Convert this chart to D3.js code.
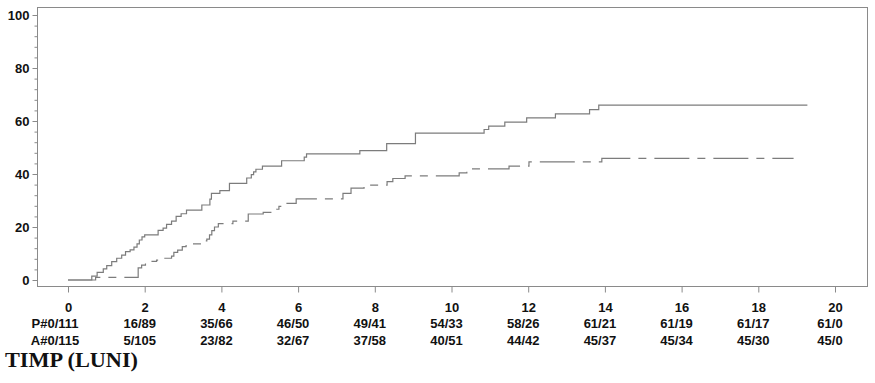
<!DOCTYPE html>
<html>
<head>
<meta charset="utf-8">
<script src="https://cdn.jsdelivr.net/npm/d3@7"></script>
<style>
  html, body { margin: 0; padding: 0; background: #fff; }
  svg { display: block; }
</style>
</head>
<body>
<svg id="chart" width="875" height="383"></svg>
<script>
// ---- data ----
const xTicks = [0, 2, 4, 6, 8, 10, 12, 14, 16, 18, 20];
const yTicks = [0, 20, 40, 60, 80, 100];
const yMinorTicks = [4, 8, 12, 16, 24, 28, 32, 36, 44, 48, 52, 56, 64, 68, 72, 76, 84, 88, 92, 96];
const pLabels = ["P#0/111", "16/89", "35/66", "46/50", "49/41", "54/33", "58/26", "61/21", "61/19", "61/17", "61/0"];
const aLabels = ["A#0/115", "5/105", "23/82", "32/67", "37/58", "40/51", "44/42", "45/37", "45/34", "45/30", "45/0"];
const xTitle = "TIMP (LUNI)";

// group P (solid): [time, cumulative %]
const seriesP = [
  [0, 0], [0.62, 1.5], [0.76, 2.9], [0.92, 4.2], [1.01, 5.4], [1.14, 6.9], [1.27, 8.2],
  [1.40, 9.4], [1.50, 10.7], [1.62, 11.4], [1.72, 12.4], [1.80, 13.6], [1.86, 15.1],
  [1.93, 16.3], [2.00, 17.0], [2.35, 18.7], [2.48, 19.6], [2.57, 21.0], [2.70, 22.2],
  [2.82, 24.0], [2.95, 25.0], [3.09, 26.4], [3.49, 28.3], [3.70, 30.5], [3.74, 32.7],
  [3.96, 33.7], [4.21, 36.5], [4.66, 38.5], [4.78, 39.8], [4.84, 40.8], [4.90, 41.8],
  [5.07, 43.0], [5.57, 45.0], [6.16, 46.4], [6.22, 47.6], [7.61, 48.8], [8.31, 51.5],
  [9.06, 55.4], [10.85, 56.8], [10.97, 58.1], [11.39, 59.6], [11.96, 61.2], [12.71, 62.7],
  [13.60, 64.3], [13.84, 66.0], [19.28, 66.0]
];

// group A (dashed): [time, cumulative %]
const seriesA = [
  [0, 0], [0.72, 1.0], [1.83, 4.6], [1.92, 5.6], [2.02, 6.5], [2.14, 7.0], [2.31, 7.5],
  [2.44, 8.2], [2.70, 9.0], [2.76, 10.4], [2.86, 11.3], [2.98, 12.6], [3.08, 13.6],
  [3.47, 14.8], [3.62, 15.4], [3.69, 17.0], [3.75, 18.6], [3.82, 20.0], [3.92, 21.3],
  [4.30, 22.2], [4.70, 24.9], [5.09, 25.5], [5.44, 26.7], [5.50, 27.8], [5.57, 28.9],
  [5.95, 30.6], [7.17, 32.7], [7.38, 34.7], [7.72, 35.8], [8.32, 37.1], [8.47, 38.3],
  [8.79, 39.3], [10.20, 40.4], [10.40, 41.5], [10.50, 41.9], [11.50, 43.0], [12.02, 44.6],
  [13.92, 45.9], [18.92, 45.9]
];

// ---- layout ----
const svg = d3.select("#chart");
const frame = { left: 37, top: 7, right: 867, bottom: 286 };
const x = d3.scaleLinear().domain([0, 20]).range([68, 835]);
const y = d3.scaleLinear().domain([0, 100]).range([280, 15]);
const axisColor = "#8a8a8a";
const lineColor = "#7c7c7c";
const font = "'Liberation Sans', Arial, Helvetica, sans-serif";

// frame
svg.append("rect")
  .attr("x", frame.left + 0.5).attr("y", frame.top + 0.5)
  .attr("width", frame.right - frame.left).attr("height", frame.bottom - frame.top)
  .attr("fill", "none").attr("stroke", axisColor).attr("stroke-width", 1);

// y axis (major)
const yAxis = svg.append("g").attr("transform", `translate(${frame.left + 0.5},0)`)
  .call(d3.axisLeft(y).tickValues(yTicks).tickSize(5).tickPadding(3).tickSizeOuter(0));
yAxis.select(".domain").remove();
yAxis.selectAll(".tick line").attr("stroke", axisColor);
yAxis.selectAll(".tick text")
  .attr("font-family", font).attr("font-size", 13).attr("font-weight", "bold").attr("fill", "#111");

// y axis (minor)
const yMinor = svg.append("g").attr("transform", `translate(${frame.left + 0.5},0)`)
  .call(d3.axisLeft(y).tickValues(yMinorTicks).tickSize(3).tickFormat(""));
yMinor.select(".domain").remove();
yMinor.selectAll(".tick line").attr("stroke", axisColor);

// x axis
const xAxis = svg.append("g").attr("transform", `translate(0,${frame.bottom + 0.5})`)
  .call(d3.axisBottom(x).tickValues(xTicks).tickSize(6).tickPadding(10).tickSizeOuter(0));
xAxis.select(".domain").remove();
xAxis.selectAll(".tick line").attr("stroke", axisColor);
xAxis.selectAll(".tick text")
  .attr("font-family", font).attr("font-size", 13).attr("font-weight", "bold").attr("fill", "#111");

// at-risk rows
function row(labels, baseline) {
  svg.append("g").selectAll("text").data(labels).join("text")
    .attr("x", (d, i) => x(xTicks[i]) + (i === 0 ? -13 : -5))
    .attr("y", baseline)
    .attr("text-anchor", "middle")
    .attr("font-family", font).attr("font-size", 13).attr("font-weight", "bold")
    .attr("fill", "#111")
    .text(d => d);
}
row(pLabels, 328.3);
row(aLabels, 345);

// x title
svg.append("text")
  .attr("x", 5).attr("y", 367)
  .attr("font-family", "'Liberation Serif', 'Times New Roman', serif")
  .attr("font-size", 21).attr("font-weight", "bold").attr("fill", "#111")
  .attr("textLength", 133).attr("lengthAdjust", "spacingAndGlyphs")
  .text(xTitle);

// curves
const line = d3.line().x(d => x(d[0])).y(d => y(d[1])).curve(d3.curveStepAfter);
svg.append("path").datum(seriesA)
  .attr("d", line).attr("fill", "none")
  .attr("stroke", lineColor).attr("stroke-width", 1.2)
  .attr("stroke-dasharray", "35,8,8,8");
svg.append("path").datum(seriesP)
  .attr("d", line).attr("fill", "none")
  .attr("stroke", lineColor).attr("stroke-width", 1.2);
</script>
</body>
</html>
